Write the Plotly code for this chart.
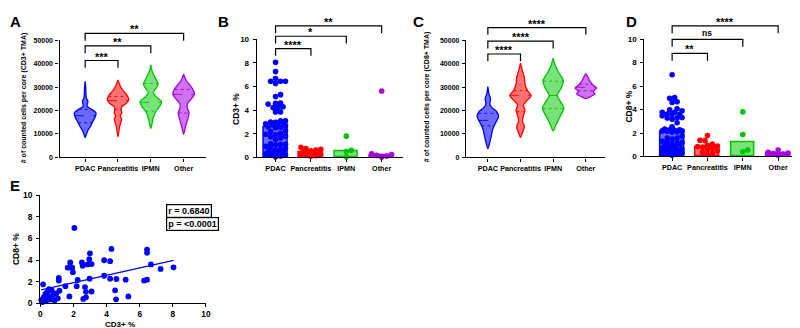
import numpy as np
import plotly.graph_objects as go

W, H = 800, 328
FONT = "Liberation Sans"
groups = ["PDAC", "Pancreatitis", "IPMN", "Other"]
colors = ["#0000FF", "#FF0000", "#00C400", "#A800E0"]
fills = ["rgba(0,0,255,0.58)", "rgba(255,0,0,0.55)", "rgba(0,200,0,0.52)", "rgba(168,0,224,0.55)"]

# ---------------- data ----------------
# PDAC paired values (CD3+ %, CD8+ %) - panel E, also PDAC in B and D
pdac_cd3 = [2.05, 6.44, 6.44, 4.29, 2.99, 3.85, 4.21, 2.51, 1.80, 2.95, 2.55, 2.85, 3.09, 1.65,
            1.92, 1.96, 6.68, 7.26, 8.04, 3.85, 2.97, 4.21, 4.59, 5.15, 6.26, 6.44, 2.25, 2.19,
            1.51, 1.11, 1.11, 0.16, 1.75, 2.69, 2.75, 3.09, 2.75, 2.59, 4.51, 4.57, 5.31,
            0.05, 0.12, 0.20, 0.30, 0.35, 0.42, 0.48, 0.52, 0.60, 0.68, 0.75, 0.85, 0.95, 1.05, 1.15]
pdac_cd8 = [6.97, 4.97, 4.67, 5.03, 4.61, 3.98, 3.89, 3.77, 3.77, 4.07, 3.47, 3.59, 3.62, 3.29,
            3.29, 2.87, 3.59, 3.17, 3.32, 2.54, 2.27, 2.27, 2.24, 2.18, 2.09, 2.18, 2.15, 1.58,
            1.58, 2.34, 2.10, 1.75, 0.63, 1.49, 1.05, 1.08, 0.54, 0.39, 1.19, 0.36, 0.63,
            0.30, 0.10, 0.55, 0.85, 0.20, 1.05, 0.60, 1.30, 0.35, 1.20, 0.75, 0.25, 0.90, 0.45, 1.15]

panc_cd3 = [0.85, 0.75, 0.68, 0.62, 0.56, 0.5, 0.45, 0.4, 0.36, 0.3, 0.26, 0.2, 0.15, 0.1]
ipmn_cd3 = [1.8, 0.6, 0.5, 0.05]
other_cd3 = [5.62, 0.3, 0.24, 0.18, 0.12, 0.03]

panc_cd8 = [1.79, 1.38, 1.35, 1.05, 0.95, 0.9, 0.85, 0.8, 0.7, 0.6, 0.5, 0.35, 0.25, 0.15]
ipmn_cd8 = [3.80, 1.87, 0.55, 0.41]
other_cd8 = [0.55, 0.36, 0.3, 0.25, 0.2, 0.12]

# Violin density profiles (cells per core, relative density)
a_pdac_lv = [8500, 10000, 11500, 13000, 14500, 16000, 17500, 19000, 20500, 21800, 23000, 24000, 25200, 27000, 29500, 32500]
a_pdac_dn = [0, 0.12, 0.25, 0.45, 0.62, 0.78, 0.95, 1.0, 0.6, 0.17, 0.22, 0.25, 0.12, 0.07, 0.06, 0]
a_panc_lv = [8800, 11000, 12700, 14000, 15500, 16500, 17800, 19000, 20200, 21600, 23000, 24600, 26400, 28500, 30600, 33000]
a_panc_dn = [0, 0.08, 0.13, 0.2, 0.3, 0.33, 0.22, 0.36, 0.3, 0.35, 0.75, 1.0, 0.85, 0.47, 0.2, 0]
a_ipmn_lv = [12300, 14000, 16800, 19500, 21600, 23700, 26000, 27800, 29200, 31300, 34000, 36800, 39500]
a_ipmn_dn = [0, 0.1, 0.22, 0.45, 0.8, 1.0, 0.45, 0.23, 0.45, 0.68, 0.4, 0.12, 0]
a_other_lv = [9900, 13300, 16100, 18900, 21400, 23000, 25100, 27100, 29900, 32600, 35500]
a_other_dn = [0, 0.18, 0.36, 0.5, 0.32, 0.36, 0.73, 1.0, 0.73, 0.27, 0]
a_quart = [[14800, 17800, 20500], [20500, 24200, 26000], [19800, 23500, 31500], [18900, 26900, 29000]]

c_pdac_lv = [3700, 6500, 9200, 12000, 14750, 17500, 19550, 21350, 22700, 25100, 27100, 30200]
c_pdac_dn = [0, 0.18, 0.32, 0.45, 0.72, 1.0, 0.82, 0.36, 0.18, 0.25, 0.1, 0]
c_panc_lv = [8550, 10600, 13100, 15400, 17750, 20250, 22300, 24400, 26450, 28500, 31300, 34000, 36800, 40200]
c_panc_dn = [0, 0.18, 0.36, 0.18, 0.27, 0.41, 0.27, 0.64, 1.0, 0.64, 0.41, 0.36, 0.18, 0]
c_ipmn_lv = [11300, 14050, 17500, 20950, 23700, 26450, 29200, 32650, 36100, 39550, 42300]
c_ipmn_dn = [0, 0.27, 0.64, 1.0, 0.7, 0.37, 0.7, 0.95, 0.52, 0.17, 0]
c_other_lv = [25100, 26000, 27150, 28100, 29600, 31000, 32650, 34700, 35650]
c_other_dn = [0, 0.45, 0.86, 0.68, 1.0, 0.64, 0.36, 0.14, 0]
c_quart = [[13500, 15800, 18800], [19500, 26500, 28500], [20800, 26400, 32500], [28400, 29900, 31200]]

stars_a = ["***", "**", "**"]
stars_b = ["****", "*", "**"]
stars_c = ["****", "****", "****"]
stars_d = ["**", "ns", "****"]

# ---------------- layout geometry ----------------
panels = {
    "A": dict(ax="", xd=(50, 198), yd=(28, 149), xr=[-0.78, 3.69], yr=[0, 50000]),
    "B": dict(ax="2", xd=(249, 396), yd=(27, 149), xr=[-0.53, 3.59], yr=[0, 10]),
    "C": dict(ax="3", xd=(460, 600), yd=(28, 149), xr=[-0.67, 3.58], yr=[0, 50000]),
    "D": dict(ax="4", xd=(640, 797), yd=(27, 148), xr=[-0.785, 3.62], yr=[0, 10]),
    "E": dict(ax="5", xd=(30.7, 197.7), yd=(188, 299.3), xr=[0, 10], yr=[0, 10]),
}

def px2paper_y(py):
    return 1 - py / H

def scale(p):
    xs = (p["xd"][1] - p["xd"][0]) / (p["xr"][1] - p["xr"][0])
    ys = (p["yd"][1] - p["yd"][0]) / (p["yr"][1] - p["yr"][0])
    return xs, ys

fig = go.Figure()
MAXHW = 0.33

def add_violins(p, profiles, quarts):
    xa, ya = "x" + p["ax"], "y" + p["ax"]
    for i, (lv, dn) in enumerate(profiles):
        lv = np.array(lv, float); dn = np.array(dn, float)
        xs = list(i + dn * MAXHW) + list(i - dn[::-1] * MAXHW)
        ys = list(lv) + list(lv[::-1])
        fig.add_trace(go.Scatter(x=xs, y=ys, mode="lines", fill="toself",
                                 fillcolor=fills[i], line=dict(color=colors[i], width=1.3, shape="spline", smoothing=0.8),
                                 xaxis=xa, yaxis=ya, hoverinfo="skip", showlegend=False))
        for k, q in enumerate(quarts[i]):
            hw = np.interp(q, lv, dn) * MAXHW
            fig.add_trace(go.Scatter(x=[i - hw, i + hw], y=[q, q], mode="lines",
                                     line=dict(color=colors[i], width=0.9, dash="dash" if k == 1 else "dot"),
                                     xaxis=xa, yaxis=ya, hoverinfo="skip", showlegend=False))

def beeswarm(vals, xs, ys, diam=5.0, maxoff=0.32):
    order = np.argsort(vals)
    placed = []
    offs = np.zeros(len(vals))
    step = diam / xs * 0.5
    cands = [0.0]
    k = 1
    while k * step <= maxoff:
        cands += [k * step, -k * step]
        k += 1
    for i in order:
        y = vals[i] * ys
        best, bestd, bd = None, -1, 0.0
        for c in cands:
            cx = c * xs
            d = min([np.hypot(cx - a, y - b) for a, b in placed] + [1e9])
            if d >= diam:
                best = c
                break
            if d > bestd:
                bestd, bd = d, c
        if best is None:
            best = bd
        placed.append((best * xs, y))
        offs[i] = best
    return offs

def add_bars(p, groups_vals):
    xa, ya = "x" + p["ax"], "y" + p["ax"]
    xs, ys = scale(p)
    meds = [float(np.median(v)) for v in groups_vals]
    fig.add_trace(go.Bar(x=list(range(4)), y=meds, width=0.67,
                         marker=dict(color=fills, line=dict(color=colors, width=1.5)),
                         xaxis=xa, yaxis=ya, hoverinfo="skip", showlegend=False))
    for i, v in enumerate(groups_vals):
        v = np.array(v, float)
        offs = beeswarm(v, xs, ys)
        fig.add_trace(go.Scatter(x=i + offs, y=v, mode="markers", cliponaxis=False,
                                 marker=dict(color=colors[i], size=5.6, line=dict(width=0)),
                                 xaxis=xa, yaxis=ya, hoverinfo="skip", showlegend=False))

add_violins(panels["A"], [(a_pdac_lv, a_pdac_dn), (a_panc_lv, a_panc_dn), (a_ipmn_lv, a_ipmn_dn), (a_other_lv, a_other_dn)], a_quart)
add_violins(panels["C"], [(c_pdac_lv, c_pdac_dn), (c_panc_lv, c_panc_dn), (c_ipmn_lv, c_ipmn_dn), (c_other_lv, c_other_dn)], c_quart)
add_bars(panels["B"], [pdac_cd3, panc_cd3, ipmn_cd3, other_cd3])
add_bars(panels["D"], [pdac_cd8, panc_cd8, ipmn_cd8, other_cd8])

# Panel E scatter + regression
ex = np.array(pdac_cd3); ey = np.array(pdac_cd8)
fig.add_trace(go.Scatter(x=ex, y=ey, mode="markers", cliponaxis=False,
                         marker=dict(color="#0000FF", size=5.8, line=dict(width=0)),
                         xaxis="x5", yaxis="y5", hoverinfo="skip", showlegend=False))
slope, icpt = np.polyfit(ex, ey, 1)
lx = np.array([ex.min(), ex.max()])
fig.add_trace(go.Scatter(x=lx, y=slope * lx + icpt, mode="lines", line=dict(color="#0000FF", width=1.3),
                         xaxis="x5", yaxis="y5", hoverinfo="skip", showlegend=False))

# ---------------- axes ----------------
layout = dict(width=W, height=H, margin=dict(l=0, r=0, t=0, b=0), paper_bgcolor="white",
              plot_bgcolor="rgba(0,0,0,0)", font=dict(family=FONT, color="black", weight="bold"),
              showlegend=False, bargap=0)

def base_axis(size):
    return dict(showline=True, linecolor="black", linewidth=1.3, ticks="outside", ticklen=3,
                tickwidth=1.3, tickcolor="black", showgrid=False, zeroline=False, fixedrange=True,
                tickfont=dict(family=FONT, size=size, color="black", weight="bold"))

for name, p in panels.items():
    a = p["ax"]
    xk, yk = "xaxis" + a, "yaxis" + a
    if name == "E":
        xax = base_axis(8.3); xax.update(tickvals=[0, 2, 4, 6, 8, 10], ticklabelstandoff=0)
        yax = base_axis(8.5); yax.update(tickvals=[0, 2, 4, 6, 8, 10], ticklabelstandoff=2)
    else:
        xax = base_axis(7.2); xax.update(tickvals=[0, 1, 2, 3], ticktext=groups, ticklabelstandoff=1)
        if p["yr"][1] > 100:
            yax = base_axis(7); yax.update(tickvals=[0, 10000, 20000, 30000, 40000, 50000], tickformat="d", ticklabelstandoff=1)
        else:
            yax = base_axis(8); yax.update(tickvals=[0, 2, 4, 6, 8, 10], ticklabelstandoff=2)
    xax.update(domain=[p["xd"][0] / W, p["xd"][1] / W], range=p["xr"], anchor="y" + a)
    yax.update(domain=[px2paper_y(p["yd"][1]), px2paper_y(p["yd"][0])], range=p["yr"], anchor="x" + a)
    layout[xk] = xax
    layout[yk] = yax

annotations = []
shapes = []

def ann(text, x, y, size, angle=0, xanchor="center", yanchor="middle", xref="paper", yref="paper", **kw):
    d = dict(text=text, x=x, y=y, xref=xref, yref=yref, showarrow=False, textangle=angle,
             xanchor=xanchor, yanchor=yanchor, font=dict(family=FONT, size=size, color="black", weight="bold"))
    d.update(kw)
    annotations.append(d)

# panel letters
for letter, (cx, cy) in {"A": (6, 9), "B": (215.5, 8.5), "C": (412.5, 8.5), "D": (626.5, 8.5), "E": (5.5, 178)}.items():
    ann(letter, cx / W, px2paper_y(cy), 15)

# axis titles
ann("# of counted cells per core (CD3+ TMA)", 14 / W, px2paper_y(87), 7, angle=-90)
ann("CD3+ %", 228 / W, px2paper_y(99), 8.5, angle=-90)
ann("# of counted cells per core (CD8+ TMA)", 421.5 / W, px2paper_y(86), 7, angle=-90)
ann("CD8+ %", 625 / W, px2paper_y(97), 8.5, angle=-90)
ann("CD8+ %", 6 / W, px2paper_y(243.5), 8.5, angle=-90)
ann("CD3+ %", 111 / W, px2paper_y(327.8), 8, yanchor="bottom")

# brackets
bracket_levels = {"A": [49, 34, 21], "B": [36.7, 24, 13.3], "C": [42.3, 29, 15], "D": [41.7, 27.3, 13.3]}
bracket_text = {"A": stars_a, "B": stars_b, "C": stars_c, "D": stars_d}
DROP = 7.5
for name, levels in bracket_levels.items():
    p = panels[name]
    xr = p["xr"]
    def dx(c):
        return (c - xr[0]) / (xr[1] - xr[0])
    for j, lvl in enumerate(levels):
        tgt = j + 1
        y0 = px2paper_y(lvl); y1 = px2paper_y(lvl + DROP)
        shapes.append(dict(type="path", xref="x" + p["ax"] + " domain", yref="paper",
                           path=f"M {dx(0)},{y1} L {dx(0)},{y0} L {dx(tgt)},{y0} L {dx(tgt)},{y1}",
                           line=dict(color="black", width=1.2)))
        t = bracket_text[name][j]
        ann(t, tgt / 2, y0, 8.5 if t == "ns" else 11, xref="x" + p["ax"], yanchor="bottom",
            yshift=-1 if t == "ns" else -4)

# E boxes
ann("r = 0.6840", 157 / W, px2paper_y(196.5), 9, xanchor="left", yanchor="top",
    bordercolor="black", borderwidth=1.2, borderpad=1)
ann("p = &lt;0.0001", 157 / W, px2paper_y(210), 9, xanchor="left", yanchor="top",
    bordercolor="black", borderwidth=1.2, borderpad=1)

layout["annotations"] = annotations
layout["shapes"] = shapes
fig.update_layout(**layout)
fig.write_html("out.html")
